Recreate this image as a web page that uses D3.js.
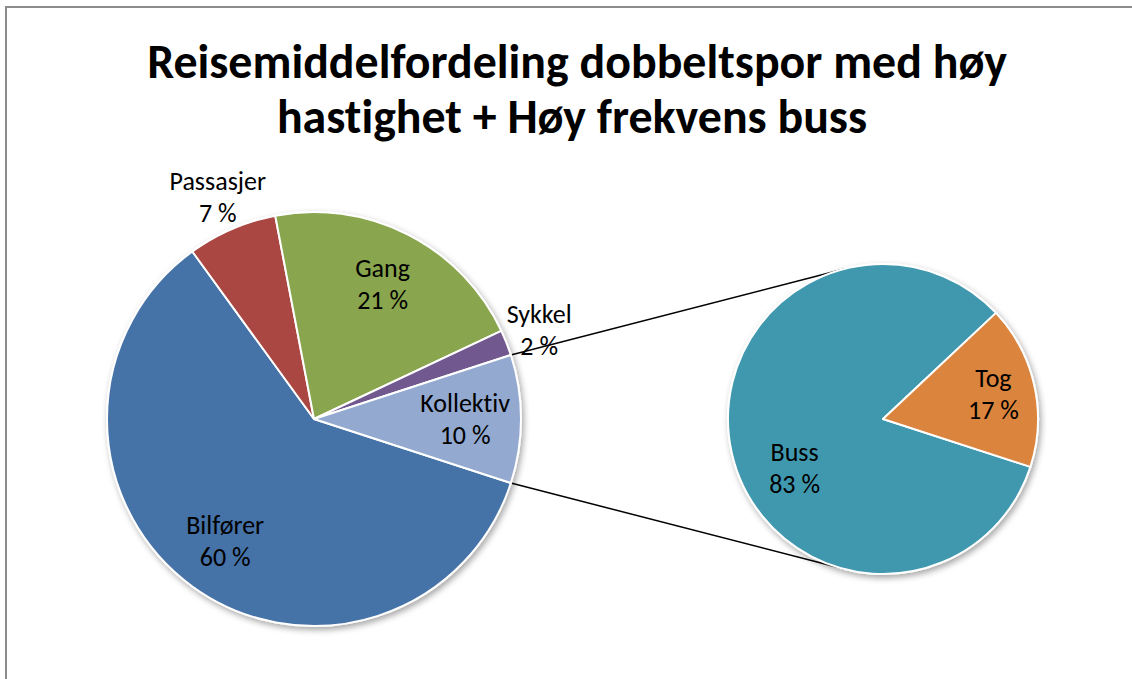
<!DOCTYPE html>
<html>
<head>
<meta charset="utf-8">
<script src="https://cdn.jsdelivr.net/npm/d3@7"></script>
<style>
  body { margin: 0; background: #fff; }
  svg { display: block; }
  text { font-variant-ligatures: none; font-feature-settings: "liga" 0, "clig" 0; }
</style>
</head>
<body>
<script>
// data
const mainLabels = ['Bilfører', 'Passasjer', 'Gang', 'Sykkel', 'Kollektiv']
const mainValues = [60, 7, 21, 2, 10]
const subLabels = ['Buss', 'Tog']
const subValues = [83, 17]
const titleLines = ['Reisemiddelfordeling dobbeltspor med høy', 'hastighet + Høy frekvens buss']

const colors = {
  'Bilfører': '#4572a7',
  'Passasjer': '#aa4643',
  'Gang': '#89a54e',
  'Sykkel': '#71588f',
  'Kollektiv': '#93a9cf',
  'Buss': '#4198af',
  'Tog': '#db843d'
}
// Excel puts the label of the big slice of the 2nd pie a bit off its centroid
const labelNudge = { 'Buss': [22, 24] }

const width = 1132
const height = 679
const font = 'Carlito, Calibri, Lato, sans-serif'

const main = { cx: 314, cy: 419, r: 207 }
const sub = { cx: 883, cy: 419, r: 155 }

const svg = d3.select('body').append('svg')
  .attr('width', width)
  .attr('height', height)

const defs = svg.append('defs')
defs.append('filter')
  .attr('id', 'shadow')
  .attr('x', '-20%').attr('y', '-20%')
  .attr('width', '140%').attr('height', '140%')
  .append('feDropShadow')
  .attr('dx', 2).attr('dy', 3)
  .attr('stdDeviation', 3)
  .attr('flood-color', '#000')
  .attr('flood-opacity', 0.35)

// chart frame
svg.append('rect')
  .attr('x', 6).attr('y', 7)
  .attr('width', width + 20).attr('height', height + 20)
  .attr('fill', '#fff')
  .attr('stroke', '#8c8c8c')
  .attr('stroke-width', 2)

// title
const title = svg.append('g')
  .attr('font-family', font)
  .attr('font-weight', 'bold')
  .attr('fill', '#000')
  .attr('text-anchor', 'middle')

const t1 = title.append('text')
  .attr('x', 577).attr('y', 78)
  .attr('font-size', 44)
  .text(titleLines[0])
// fit the first line to the width Excel gives it
const w1 = t1.node().getComputedTextLength()
const titleSize = 44 * 860 / w1
t1.attr('font-size', titleSize)
title.append('text')
  .attr('x', 572).attr('y', 133)
  .attr('font-size', titleSize)
  .text(titleLines[1])

// both pies start where the "other" slice is centred on 3 o'clock
const otherShare = mainValues[mainValues.length - 1] / d3.sum(mainValues)
const startAngle = Math.PI / 2 + otherShare * Math.PI

const pie = d3.pie().sort(null).startAngle(startAngle).endAngle(startAngle + 2 * Math.PI)

const mainData = pie(mainValues).map((d, i) => ({ ...d, name: mainLabels[i] }))
const subData = pie(subValues).map((d, i) => ({ ...d, name: subLabels[i] }))

const mainArc = d3.arc().innerRadius(0).outerRadius(main.r)
const subArc = d3.arc().innerRadius(0).outerRadius(sub.r)

// series lines: from the edges of the "other" slice, tangent to the 2nd pie
const other = mainData[mainData.length - 1]
function edgePoint(a) {
  return [main.cx + main.r * Math.sin(a), main.cy - main.r * Math.cos(a)]
}
function tangent(p, upper) {
  const dx = p[0] - sub.cx
  const dy = p[1] - sub.cy
  const d = Math.hypot(dx, dy)
  const base = Math.atan2(dy, dx)
  const off = Math.acos(sub.r / d)
  const a = upper ? base + off : base - off
  return [sub.cx + sub.r * Math.cos(a), sub.cy + sub.r * Math.sin(a)]
}
const pTop = edgePoint(other.startAngle)
const pBot = edgePoint(other.endAngle)
const lines = [[pTop, tangent(pTop, true)], [pBot, tangent(pBot, false)]]

svg.append('g')
  .selectAll('line')
  .data(lines)
  .join('line')
  .attr('x1', d => d[0][0]).attr('y1', d => d[0][1])
  .attr('x2', d => d[1][0]).attr('y2', d => d[1][1])
  .attr('stroke', '#000')
  .attr('stroke-width', 1.5)

// pies
svg.append('g')
  .attr('transform', `translate(${main.cx},${main.cy})`)
  .attr('filter', 'url(#shadow)')
  .selectAll('path')
  .data(mainData)
  .join('path')
  .attr('d', mainArc)
  .attr('fill', d => colors[d.name])
  .attr('stroke', '#fff')
  .attr('stroke-width', 2)
  .attr('stroke-linejoin', 'round')

svg.append('g')
  .attr('transform', `translate(${sub.cx},${sub.cy})`)
  .attr('filter', 'url(#shadow)')
  .selectAll('path')
  .data(subData)
  .join('path')
  .attr('d', subArc)
  .attr('fill', d => colors[d.name])
  .attr('stroke', '#fff')
  .attr('stroke-width', 2)
  .attr('stroke-linejoin', 'round')

// labels
const total = d3.sum(mainValues)
const subTotal = d3.sum(subValues)

function labelPos(d, c, r, outside) {
  const a = (d.startAngle + d.endAngle) / 2
  const k = outside ? 1.17 : 0.73
  const n = labelNudge[d.name] || [0, 0]
  return [c.cx + k * r * Math.sin(a) + n[0], c.cy - k * r * Math.cos(a) + n[1]]
}

const labelData = [
  ...mainData.map(d => ({
    name: d.name,
    pct: Math.round(d.value / total * 100),
    pos: labelPos(d, main, main.r, d.value / total < 0.08)
  })),
  ...subData.map(d => ({
    name: d.name,
    pct: Math.round(d.value / subTotal * 100),
    pos: labelPos(d, sub, sub.r, false)
  }))
]

const label = svg.append('g')
  .attr('font-family', font)
  .attr('font-size', 26)
  .attr('fill', '#000')
  .attr('text-anchor', 'middle')
  .selectAll('text')
  .data(labelData)
  .join('text')
  .attr('x', d => d.pos[0])
  .attr('y', d => d.pos[1])

label.append('tspan')
  .attr('x', d => d.pos[0])
  .attr('dy', -7)
  .text(d => d.name)
label.append('tspan')
  .attr('x', d => d.pos[0])
  .attr('dy', 32)
  .text(d => `${d.pct} %`)
</script>
</body>
</html>
